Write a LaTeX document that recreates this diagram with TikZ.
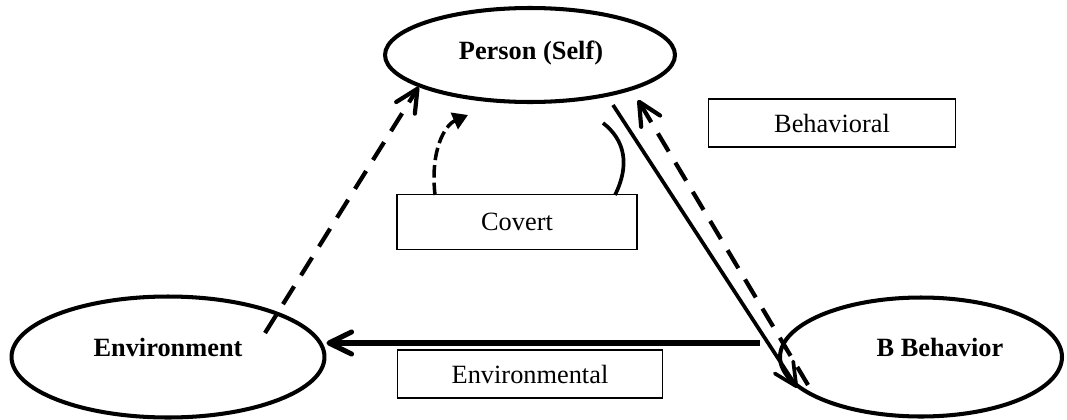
\documentclass[tikz,border=0pt]{standalone}
\usepackage{fontspec}
\setmainfont{Liberation Serif}
\usetikzlibrary{shapes.geometric,arrows.meta}
\begin{document}
\begin{tikzpicture}[x=0.02cm,y=-0.02cm]
  \tikzstyle{blob}=[draw,ellipse,line width=2.3pt,inner sep=0pt]
  \tikzstyle{title}=[font=\fontsize{15}{18}\selectfont\bfseries]
  \tikzstyle{tag}=[draw,line width=0.8pt,minimum height=0.96cm,font=\fontsize{15}{18}\selectfont]
  \tikzstyle{barb}=[-{Straight Barb[round,length=4.5mm,width=4.4mm]}]
  \tikzstyle{broken}=[dash pattern=on 0.42cm off 0.26cm]
  \useasboundingbox (0,0) rectangle (1067,419);
  % the three ellipses
  \node[blob,minimum width=5.8cm,minimum height=1.88cm] (per) at (530,55) {};
  \node[title] (perlbl) at (531,53) {Person (Self)};
  \node[blob,minimum width=6.26cm,minimum height=2.42cm] (env) at (168,357) {};
  \node[title] (envlbl) at (168,347) {Environment};
  \node[blob,minimum width=5.64cm,minimum height=2.38cm] (beh) at (921,357) {};
  \node[title] (behlbl) at (940,347) {B Behavior};
  % the boxes
  \node[tag,minimum width=4.94cm] (behbox) at (832,123) {Behavioral};
  \node[tag,minimum width=4.8cm,minimum height=1.1cm] (covbox) at (517,222) {Covert};
  \node[tag,minimum width=5.3cm] (envbox) at (530,374) {Environmental};
  % loose ends
  \coordinate (hstart) at (760,343);
  \coordinate (sdtop) at (613,105);
  \coordinate (bdlow) at (808,385);
  \coordinate (bdtip) at (638,100);
  \coordinate (edlow) at (265,333);
  \coordinate (cvl) at (435,195);
  \coordinate (cvtip) at (468,115);
  \coordinate (cvr) at (615,195);
  \coordinate (cvend) at (603,123);
  % arrows
  \draw[barb,line width=2.9pt] (hstart) -- (hstart -| env.east);
  \draw[barb,line width=2.1pt] (sdtop) -- (beh.194);
  \draw[barb,broken,line width=2.4pt] (bdlow) -- (bdtip);
  \draw[barb,broken,line width=2.4pt] (edlow) -- (per.196);
  \draw[-{Triangle[length=3mm,width=3.5mm]},dash pattern=on 0.25cm off 0.1cm,line width=2pt]
    (cvl) .. controls (430,150) and (445,125) .. (cvtip);
  \draw[line width=2.1pt] (cvr) .. controls (630,165) and (625,140) .. (cvend);
\end{tikzpicture}
\end{document}
